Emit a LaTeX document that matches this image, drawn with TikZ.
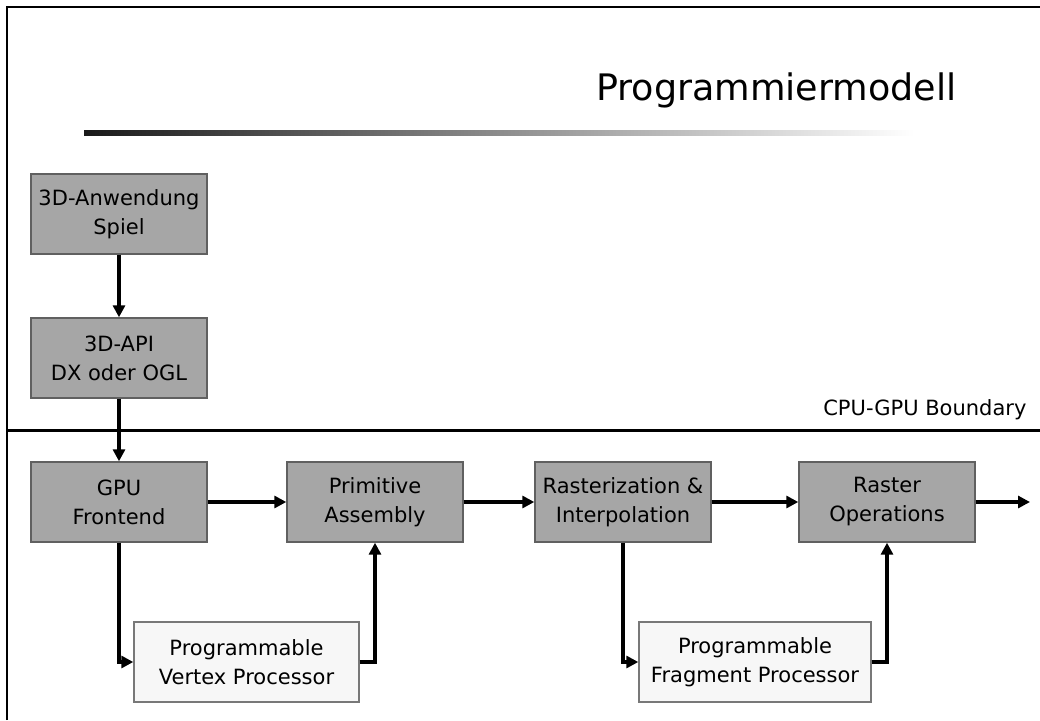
\documentclass[tikz,border=0pt]{standalone}
\usepackage{fontspec}
\setmainfont{DejaVu Sans}
\usepackage{xcolor}
\usepackage{tikz}
\usetikzlibrary{positioning,arrows.meta,calc}

\definecolor{boxgray}{RGB}{166,166,166}
\definecolor{boxedge}{RGB}{96,96,96}
\definecolor{progfill}{RGB}{247,247,247}
\definecolor{progedge}{RGB}{120,120,120}

\begin{document}
\begin{tikzpicture}[
    x=1pt, y=-1pt,
    stage/.style={rectangle, draw=boxedge, line width=1.4pt, fill=boxgray, minimum width=176pt, minimum height=80pt, inner sep=0pt, align=center, font=\fontsize{21}{29}\selectfont},
    prog/.style={stage, draw=progedge, fill=progfill},
    arrow/.style={-{Triangle[length=12pt,width=12pt]}, line width=3.3pt}
]
\useasboundingbox (0,0) rectangle (1040,720);

% Frame and title
\draw[line width=2pt] (7,720) -- (7,7) -- (1040,7);
\node[anchor=base east, font=\fontsize{36.5}{44}\selectfont] (title) at (960,100) {Programmiermodell};
\shade[left color=black!90, right color=white] (84,130) rectangle (914,135);

% CPU side
\node[stage] (app) at (119,214) {3D-Anwendung\\Spiel};
\node[stage] (api) at (119,358) {3D-API\\DX oder OGL};
\draw[arrow] (app.south) -- (api.north);

% CPU-GPU boundary
\draw[line width=3pt] (7,430) -- (1040,430);
\node[anchor=base east, font=\fontsize{21}{29}\selectfont] (bound) at (1030,415) {CPU-GPU Boundary};

% GPU pipeline
\node[stage] (front) at (119,502) {GPU\\Frontend};
\node[stage] (prim) at (375,502) {Primitive\\Assembly};
\node[stage] (rast) at (623,502) {Rasterization \&\\Interpolation};
\node[stage] (rop) at (887,502) {Raster\\Operations};
\coordinate (out) at (1030,502);

% Programmable stages (below)
\node[prog, minimum width=225pt] (vertex) at (246.5,662) {Programmable\\Vertex Processor};
\node[prog, minimum width=232pt] (frag) at (755,662) {Programmable\\Fragment Processor};

\draw[arrow] (api.south) -- (front.north);
\draw[arrow] (front.east) -- (prim.west);
\draw[arrow] (prim.east) -- (rast.west);
\draw[arrow] (rast.east) -- (rop.west);
\draw[arrow] (rop.east) -- (out);

\draw[arrow] (front.south) |- (vertex.west);
\draw[arrow] (vertex.east) -| (prim.south);
\draw[arrow] (rast.south) |- (frag.west);
\draw[arrow] (frag.east) -| (rop.south);

\end{tikzpicture}
\end{document}
